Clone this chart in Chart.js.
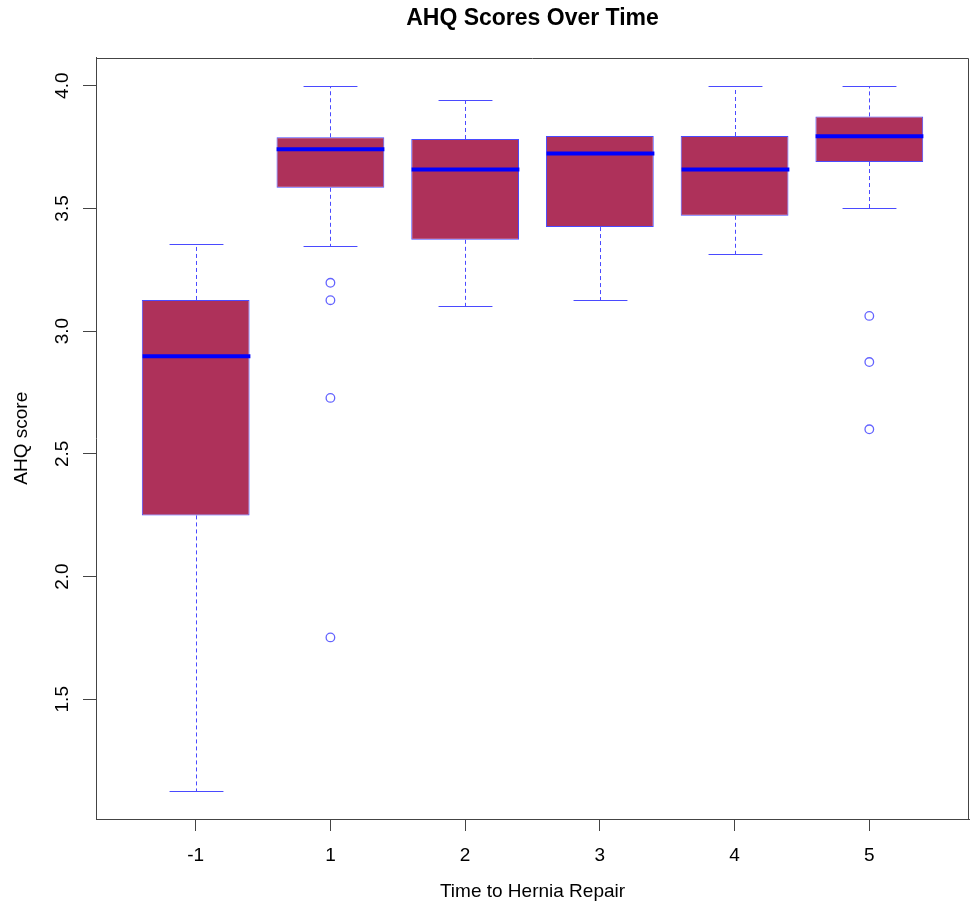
<!DOCTYPE html>
<html>
<head>
<meta charset="utf-8">
<script src="https://cdn.jsdelivr.net/npm/chart.js@4/dist/chart.umd.min.js"></script>
<style>
  html, body { margin: 0; padding: 0; background: #ffffff; }
  #wrap { width: 970px; height: 908px; }
</style>
</head>
<body>
<div id="wrap"><canvas id="c" width="970" height="908"></canvas></div>
<script>
// ---- data ----
const categories = ['-1', '1', '2', '3', '4', '5'];
const positions  = [1, 2, 3, 4, 5, 6];
const whiskerLow  = [1.128, 3.346, 3.104, 3.127, 3.315, 3.500];
const quartile1   = [2.249, 3.584, 3.372, 3.424, 3.470, 3.689];
const medians     = [2.898, 3.741, 3.659, 3.724, 3.659, 3.794];
const quartile3   = [3.127, 3.790, 3.783, 3.795, 3.795, 3.875];
const whiskerHigh = [3.356, 4.000, 3.940, 3.795, 4.000, 4.000];
const outlierGroup  = ['1', '1', '1', '1', '5', '5', '5'];
const outlierValues = [3.197, 3.126, 2.728, 1.752, 3.062, 2.874, 2.600];
const yTickValues = [1.5, 2.0, 2.5, 3.0, 3.5, 4.0];
const yTickLabels = ['1.5', '2.0', '2.5', '3.0', '3.5', '4.0'];

const FONT = "'Liberation Sans', Arial, Helvetica, sans-serif";
const boxFill = '#AE315A';
const lineBlue = '#4a4aff';

const boxData = positions.map((p, i) => ({ x: p, y: [quartile1[i], quartile3[i]] }));
const outlierData = outlierValues.map((v, i) => ({ x: positions[categories.indexOf(outlierGroup[i])], y: v }));

const boxParts = {
  id: 'boxParts',
  afterDatasetsDraw(chart) {
    const ctx = chart.ctx, xs = chart.scales.x, ys = chart.scales.y;
    const bars = chart.getDatasetMeta(0).data;
    ctx.save();
    bars.forEach((bar, i) => {
      const cx = Math.round(xs.getPixelForValue(positions[i])) + 0.5;
      const half = bar.width / 2;
      const cap = half * 0.5;
      const yLo = Math.round(ys.getPixelForValue(whiskerLow[i])) + 0.5;
      const yQ1 = ys.getPixelForValue(quartile1[i]);
      const yQ3 = ys.getPixelForValue(quartile3[i]);
      const yHi = Math.round(ys.getPixelForValue(whiskerHigh[i])) + 0.5;
      // dashed whiskers
      ctx.strokeStyle = lineBlue; ctx.lineWidth = 1; ctx.setLineDash([4, 3]);
      ctx.beginPath();
      ctx.moveTo(cx, yQ1); ctx.lineTo(cx, yLo);
      if (whiskerHigh[i] > quartile3[i]) { ctx.moveTo(cx, yQ3); ctx.lineTo(cx, yHi); }
      ctx.stroke();
      // caps
      ctx.setLineDash([]);
      ctx.beginPath();
      ctx.moveTo(cx - cap, yLo); ctx.lineTo(cx + cap, yLo);
      ctx.moveTo(cx - cap, yHi); ctx.lineTo(cx + cap, yHi);
      ctx.stroke();
      // median
      const yM = ys.getPixelForValue(medians[i]);
      ctx.strokeStyle = '#0000ff'; ctx.lineWidth = 4; ctx.lineCap = 'butt';
      ctx.beginPath();
      ctx.moveTo(cx - half, yM); ctx.lineTo(cx + half, yM);
      ctx.stroke();
    });
    // frame top and right
    const a = chart.chartArea;
    ctx.strokeStyle = '#444'; ctx.lineWidth = 1;
    ctx.beginPath();
    ctx.moveTo(Math.round(a.left) + 0.5, Math.round(a.top) + 0.5);
    ctx.lineTo(Math.round(a.right) - 0.5, Math.round(a.top) + 0.5);
    ctx.lineTo(Math.round(a.right) - 0.5, Math.round(a.bottom) + 0.5);
    ctx.stroke();
    // rotated y tick labels (R style)
    ctx.fillStyle = '#000';
    ctx.font = '19px ' + FONT;
    ctx.textAlign = 'center'; ctx.textBaseline = 'alphabetic';
    yTickValues.forEach((v, i) => {
      const y = ys.getPixelForValue(v);
      ctx.save();
      ctx.translate(a.left - 28, y);
      ctx.rotate(-Math.PI / 2);
      ctx.fillText(yTickLabels[i], 0, 0);
      ctx.restore();
    });
    ctx.restore();
  }
};

new Chart(document.getElementById('c'), {
  type: 'bar',
  data: {
    datasets: [
      {
        type: 'bar',
        data: boxData,
        backgroundColor: boxFill,
        borderColor: lineBlue,
        borderWidth: 1,
        borderSkipped: false,
        barPercentage: 0.8,
        categoryPercentage: 1.0
      },
      {
        type: 'scatter',
        data: outlierData,
        pointStyle: 'circle',
        pointRadius: 4.3,
        pointBorderWidth: 1.3,
        pointBorderColor: '#6464ff',
        pointBackgroundColor: 'rgba(0,0,0,0)',
        showLine: false
      }
    ]
  },
  options: {
    responsive: false,
    animation: false,
    devicePixelRatio: 1,
    layout: { autoPadding: false, padding: { left: 0, right: 1, top: 0, bottom: 0 } },
    plugins: {
      legend: { display: false },
      tooltip: { enabled: false },
      title: {
        display: true,
        fullSize: false,
        text: 'AHQ Scores Over Time',
        color: '#000',
        font: { family: FONT, size: 23, weight: 'bold' },
        padding: { top: 4.5, bottom: 25.4 }
      }
    },
    scales: {
      x: {
        type: 'linear',
        position: 'bottom',
        offset: false,
        min: 0.26,
        max: 6.74,
        afterBuildTicks: (s) => { s.ticks = positions.map(v => ({ value: v })); },
        afterFit: (s) => { s.height = 89; s.paddingLeft = 0; s.paddingRight = 0; },
        grid: { offset: false, drawOnChartArea: false, drawTicks: true, tickLength: 12, color: '#444' },
        border: { display: true, color: '#444' },
        ticks: {
          color: '#000',
          font: { family: FONT, size: 19 },
          padding: 13.6,
          maxRotation: 0,
          callback: (v) => categories[positions.indexOf(v)]
        },
        title: {
          display: true,
          text: 'Time to Hernia Repair',
          color: '#000',
          font: { family: FONT, size: 19 },
          padding: { top: 0, bottom: 5 }
        }
      },
      y: {
        type: 'linear',
        min: 1.012,
        max: 4.115,
        afterBuildTicks: (s) => { s.ticks = yTickValues.map(v => ({ value: v })); },
        afterFit: (s) => { s.width = 96; s.paddingTop = 0; s.paddingBottom = 0; },
        grid: { drawOnChartArea: false, drawTicks: true, tickLength: 13, color: '#444' },
        border: { display: true, color: '#444' },
        ticks: { display: false },
        title: {
          display: true,
          text: 'AHQ score',
          color: '#000',
          font: { family: FONT, size: 19 },
          padding: { top: 10.2, bottom: 0 }
        }
      }
    }
  },
  plugins: [boxParts]
});
</script>
</body>
</html>
